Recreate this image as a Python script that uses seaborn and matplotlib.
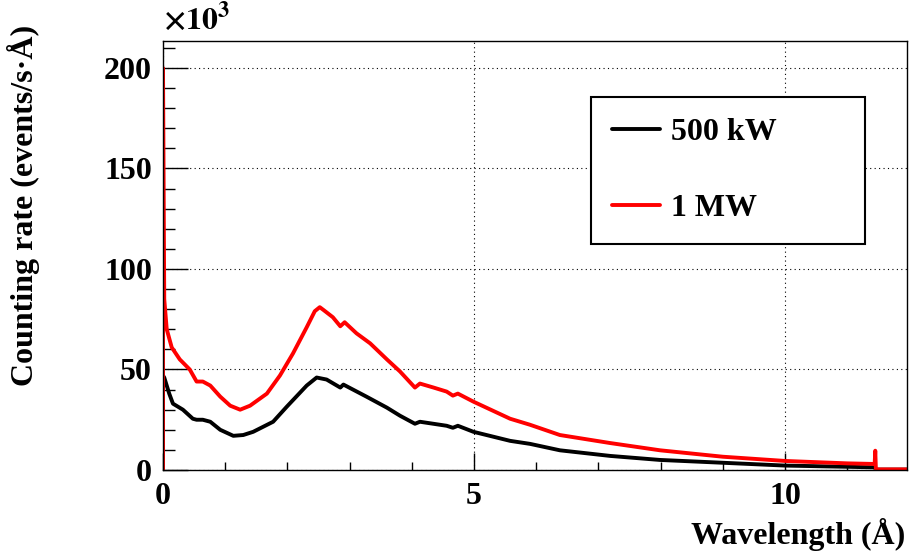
import matplotlib
matplotlib.use("Agg")
import matplotlib.pyplot as plt
import seaborn as sns
import pandas as pd
from matplotlib.ticker import MultipleLocator

# ---- data (rates in units of 10^3 events/s/Å) ----
wl_500kw = [0.0, 0.0, 0.02, 0.10, 0.16, 0.32, 0.48, 0.54, 0.64, 0.76, 0.92, 1.13, 1.29, 1.45,
            1.77, 1.99, 2.31, 2.47, 2.63, 2.85, 2.90, 3.27, 3.60, 3.81, 4.05, 4.13, 4.56,
            4.66, 4.74, 4.99, 5.58, 5.90, 6.38, 7.19, 7.99, 9.00, 10.00, 11.00, 11.44,
            11.46, 12.0]
rate_500kw = [0, 47, 46, 38, 33, 30, 25.5, 25, 25, 24, 20, 17, 17.4, 19,
              24, 31.5, 42, 46, 45, 41, 42.5, 36.5, 31, 27, 23, 24, 22,
              21, 22, 19, 14.5, 13, 9.8, 7, 5, 3.6, 2.2, 1.6, 1.3,
              0.2, 0.2]

wl_1mw = [0.0, 0.0, 0.02, 0.06, 0.14, 0.27, 0.43, 0.54, 0.64, 0.76, 0.92, 1.08, 1.24, 1.40,
          1.67, 1.88, 2.09, 2.31, 2.44, 2.52, 2.58, 2.73, 2.85, 2.92, 3.11, 3.33, 3.60,
          3.81, 4.05, 4.13, 4.35, 4.56, 4.66, 4.74, 4.99, 5.58, 5.90, 6.38, 7.19, 7.99,
          9.00, 10.00, 11.00, 11.44, 11.45, 11.46, 12.0]
rate_1mw = [0, 200, 85, 70, 61, 55, 50, 44, 44, 42, 36.5, 32, 30, 32,
            38, 47, 58, 71, 79, 81, 79.6, 76, 71.5, 73.5, 68, 63, 55,
            49, 41, 43, 41, 39, 37, 38, 34, 25.5, 22.5, 17.4, 13.4, 9.8,
            6.6, 4.5, 3.3, 3.0, 9.6, 0.3, 0.3]

series_names = ["500 kW", "1 MW"]
series_colors = ["#000000", "#ff0000"]

x_ticks = [0, 5, 10]
y_ticks = [0, 50, 100, 150, 200]

df = pd.concat([
    pd.DataFrame({"wl": wl_500kw, "rate": rate_500kw, "series": series_names[0]}),
    pd.DataFrame({"wl": wl_1mw, "rate": rate_1mw, "series": series_names[1]}),
], ignore_index=True)

sns.set_style("white")
plt.rcParams["font.family"] = ["Liberation Serif", "DejaVu Serif"]
plt.rcParams["font.weight"] = "bold"
plt.rcParams["mathtext.fontset"] = "stix"
plt.rcParams["text.color"] = "black"
plt.rcParams["axes.labelcolor"] = "black"
plt.rcParams["xtick.color"] = "black"
plt.rcParams["ytick.color"] = "black"

FS = 23

fig = plt.figure(figsize=(9.16, 5.57), dpi=100)
ax = fig.add_axes([163 / 916, 87 / 557, 744 / 916, 429 / 557])

sns.lineplot(data=df, x="wl", y="rate", hue="series", palette=series_colors,
             hue_order=series_names, sort=False, estimator=None,
             linewidth=2.8, ax=ax, legend=True)

ax.set_xlim(0, 11.96)
ax.set_ylim(0, 213.4)
ax.set_xticks(x_ticks)
ax.set_yticks(y_ticks)
ax.xaxis.set_minor_locator(MultipleLocator(1))
ax.yaxis.set_minor_locator(MultipleLocator(10))
ax.set_xticklabels([str(v) for v in x_ticks], fontsize=FS, fontweight="bold")
ax.set_yticklabels([str(v) for v in y_ticks], fontsize=FS, fontweight="bold")

ax.tick_params(axis="x", which="major", direction="in", length=12, width=1, pad=9,
               top=False, bottom=True)
ax.tick_params(axis="x", which="minor", direction="in", length=5.5, width=1,
               top=False, bottom=True)
ax.tick_params(axis="y", which="major", direction="in", length=18, width=1, pad=8,
               left=True, right=False)
ax.tick_params(axis="y", which="minor", direction="in", length=8.5, width=1,
               left=True, right=False)

for s in ax.spines.values():
    s.set_visible(True)
    s.set_color("black")
    s.set_linewidth(1.0)

ax.grid(True, which="major", color="black", linestyle=(0, (1, 3)), linewidth=0.8)
ax.set_axisbelow(True)

ax.set_xlabel("Wavelength (Å)", fontsize=FS, fontweight="bold", loc="right")
ax.xaxis.set_label_coords(0.997, -0.112)
ax.set_ylabel("Counting rate (events/s·Å)", fontsize=FS, fontweight="bold", loc="top")
ax.yaxis.set_label_coords(-0.165, 1.037)

ax.text(0.0, 1.012, r"$\times10^{3}$", transform=ax.transAxes, fontsize=FS,
        ha="left", va="bottom")

handles, labels = ax.get_legend_handles_labels()
x0 = (591 - 163) / 744
x1 = (865 - 163) / 744
ytop = (470 - 97) / 429
leg = ax.legend(handles, labels, loc="upper left",
                bbox_to_anchor=(x0, ytop - 0.01, x1 - x0, 0.01), mode="expand",
                frameon=True, fancybox=False,
                edgecolor="black", framealpha=1, fontsize=FS, handlelength=1.5,
                handletextpad=0.35, labelspacing=1.45, borderpad=0.65,
                borderaxespad=0)
leg.get_frame().set_linewidth(1.5)
for t in leg.get_texts():
    t.set_fontweight("bold")
for line in leg.get_lines():
    line.set_linewidth(2.8)

fig.savefig("out.png", dpi=100)
